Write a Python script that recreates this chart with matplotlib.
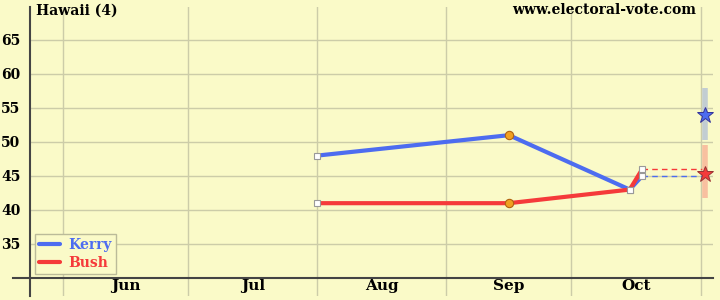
import numpy as np
import matplotlib.pyplot as plt
import matplotlib.dates as mdates
from datetime import date

# poll data (Hawaii 2004)
poll_dates = [date(2004, 8, 1), date(2004, 9, 16), date(2004, 10, 15), date(2004, 10, 18)]
kerry = [48, 51, 43, 45]
bush = [41, 41, 43, 46]
poll_markers = ['s', 'o', 's', 's']

# election day result + range
final_date = date(2004, 11, 2)
kerry_final = 54
bush_final = 45.3
kerry_range = (50.3, 58)
bush_range = (41.8, 49.6)

months = ['Jun', 'Jul', 'Aug', 'Sep', 'Oct']
month_starts = [date(2004, m, 1) for m in range(6, 12)]
yticks = [35, 40, 45, 50, 55, 60, 65]

bg = '#fafac8'
blue = '#4d6cf0'
red = '#f53a3a'

plt.rcParams['font.family'] = 'DejaVu Serif'
plt.rcParams['font.weight'] = 'bold'

fig = plt.figure(figsize=(7.2, 3.0), dpi=100, facecolor=bg)
ax = fig.add_axes([30/720, 4/300, 683/720, 289/300], facecolor=bg)

x0 = mdates.date2num(date(2004, 5, 24))
x1 = mdates.date2num(date(2004, 11, 4))
ax.set_xlim(x0, x1)
ax.set_ylim(27.35, 69.85)

# grid
for d in month_starts:
    ax.axvline(mdates.date2num(d), color='#cccca8', lw=1, zorder=0)
for y in yticks:
    ax.axhline(y, color='#cccca8', lw=1, zorder=0)
ax.axhline(30, xmin=-17/683, xmax=1.0, color='#444444', lw=1.5, clip_on=False, zorder=1)

for s in ['top', 'right', 'bottom']:
    ax.spines[s].set_visible(False)
ax.spines['left'].set_color('#444444')
ax.spines['left'].set_linewidth(1.5)
ax.set_xticks([])
ax.set_yticks(yticks)
ax.set_yticklabels([str(y) for y in yticks], fontsize=10)
ax.tick_params(axis='y', length=0, pad=7)

# month labels
for i, m in enumerate(months):
    mid = (mdates.date2num(month_starts[i]) + mdates.date2num(month_starts[i + 1])) / 2
    ax.text(mid, 28.8, m, ha='center', va='center', fontsize=11)

xd = mdates.date2num(poll_dates)
ax.plot(xd, kerry, color=blue, lw=3, solid_capstyle='round', zorder=3, label='Kerry')
ax.plot(xd, bush, color=red, lw=3, solid_capstyle='round', zorder=3, label='Bush')
for xi, k, b, mk in zip(xd, kerry, bush, poll_markers):
    if mk == 's':
        ax.plot([xi, xi], [k, b], ls='none', marker='s', ms=5, mfc='white', mec='#999999', mew=0.8, zorder=4)
    else:
        ax.plot([xi, xi], [k, b], ls='none', marker='o', ms=6, mfc='#f0a020', mec='#b06010', mew=0.8, zorder=4)

# projection to election day
xf = mdates.date2num(final_date)
ax.plot([xd[-1], xf], [kerry[-1], kerry[-1]], color=blue, lw=1, ls=(0, (4, 3)), zorder=2)
ax.plot([xd[-1], xf], [bush[-1], bush[-1]], color=red, lw=1, ls=(0, (4, 3)), zorder=2)
ax.plot([xf, xf], kerry_range, color='#c2cdd2', lw=4, zorder=2, solid_capstyle='butt')
ax.plot([xf, xf], bush_range, color='#f8c0a0', lw=4, zorder=2, solid_capstyle='butt')
ax.plot(xf, kerry_final, marker='*', ms=12, mfc=blue, mec='#333399', mew=0.7, zorder=5)
ax.plot(xf, bush_final, marker='*', ms=12, mfc=red, mec='#993333', mew=0.7, zorder=5)

leg = ax.legend(loc='lower left', bbox_to_anchor=(5/683, 22/289), fontsize=10, frameon=True,
                fancybox=False, facecolor=bg, edgecolor='#bbbb99', handlelength=1.5,
                borderpad=0.3, labelspacing=0.3, handletextpad=0.6, borderaxespad=0)
leg.get_frame().set_alpha(1)
for t, c in zip(leg.get_texts(), [blue, red]):
    t.set_color(c)

fig.text(36/720, 1 - 11/300, 'Hawaii (4)', ha='left', va='center', fontsize=10)
fig.text(696/720, 1 - 10/300, 'www.electoral-vote.com', ha='right', va='center', fontsize=10)

plt.savefig('out.png', dpi=100, facecolor=bg)
